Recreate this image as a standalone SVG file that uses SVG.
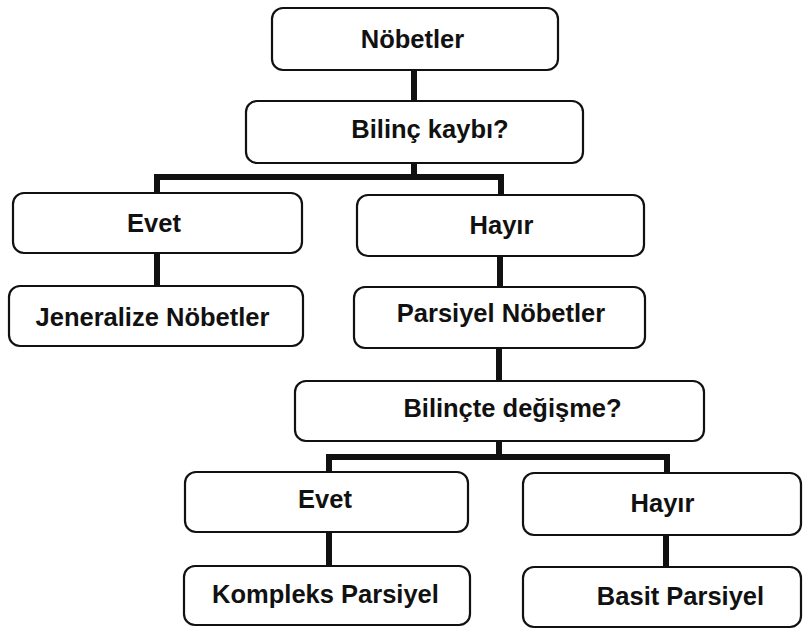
<svg xmlns="http://www.w3.org/2000/svg" width="803" height="629" viewBox="0 0 803 629">
<style>
.box{fill:#fff;stroke:#111;stroke-width:2.2}
.t{font-family:"Liberation Sans",Arial,sans-serif;font-weight:bold;font-size:25.5px;fill:#111;text-anchor:middle}
.c{fill:none;stroke:#111;stroke-width:6;stroke-linejoin:miter;stroke-linecap:butt}
</style>
<rect width="803" height="629" fill="#fff"/>
<g id="connectors">
<path class="c" d="M414,70V101"/>
<path class="c" d="M414,163V177M157,193V177H501V195"/>
<path class="c" d="M157,253V286"/>
<path class="c" d="M500,256V287"/>
<path class="c" d="M499,348V381"/>
<path class="c" d="M499,441V457M329,472V457H667V473"/>
<path class="c" d="M329,532V566"/>
<path class="c" d="M666,535V567"/>
</g>
<g id="n1"><rect class="box" x="272" y="8" width="286" height="62" rx="11"/><text class="t" x="412.5" y="48">Nöbetler</text></g>
<g id="n2"><rect class="box" x="246" y="101" width="337" height="62" rx="11"/><text class="t" x="430" y="138">Bilinç kaybı?</text></g>
<g id="n3"><rect class="box" x="13" y="193" width="289" height="60" rx="11"/><text class="t" x="154" y="232">Evet</text></g>
<g id="n4"><rect class="box" x="9" y="286" width="294" height="60" rx="11"/><text class="t" x="152.5" y="326">Jeneralize Nöbetler</text></g>
<g id="n5"><rect class="box" x="357" y="195" width="287" height="61" rx="11"/><text class="t" x="501.5" y="234">Hayır</text></g>
<g id="n6"><rect class="box" x="354" y="287" width="291" height="61" rx="11"/><text class="t" x="501" y="322">Parsiyel Nöbetler</text></g>
<g id="n7"><rect class="box" x="295" y="381" width="409" height="60" rx="11"/><text class="t" x="512.5" y="417">Bilinçte değişme?</text></g>
<g id="n8"><rect class="box" x="185" y="472" width="283" height="60" rx="11"/><text class="t" x="325" y="508">Evet</text></g>
<g id="n9"><rect class="box" x="184" y="566" width="286" height="59" rx="11"/><text class="t" x="325.5" y="603">Kompleks Parsiyel</text></g>
<g id="n10"><rect class="box" x="523" y="473" width="278" height="62" rx="11"/><text class="t" x="662.5" y="512">Hayır</text></g>
<g id="n11"><rect class="box" x="523" y="567" width="278" height="60" rx="11"/><text class="t" x="680.5" y="605">Basit Parsiyel</text></g>
</svg>
